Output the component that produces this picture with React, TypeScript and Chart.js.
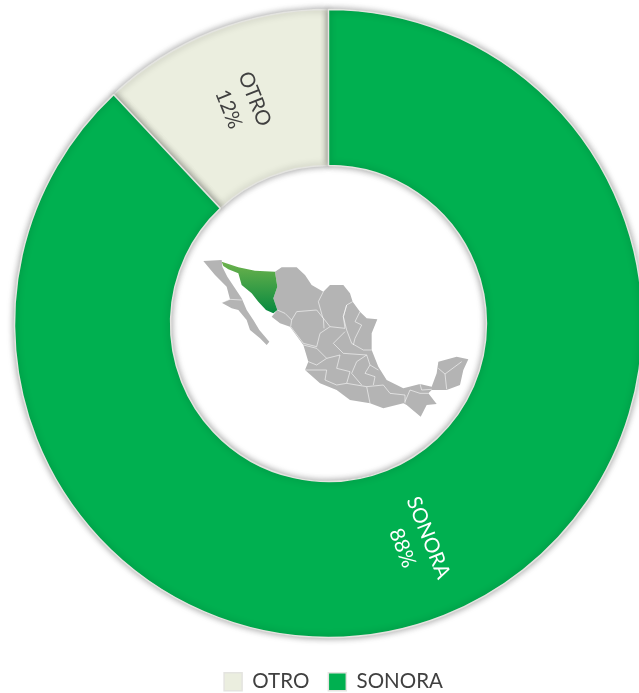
import React, { useEffect, useRef } from "react";
import { Chart, registerables } from "chart.js";

Chart.register(...registerables);

const categories = ["OTRO", "SONORA"];
const shares = [12, 88];
const sliceColors = ["#EBEEDF", "#00B050"];
const labelColors = ["#404040", "#FFFFFF"];

const FONT = "Lato, 'Open Sans', sans-serif";
const CANVAS_SHIFT = 16;
const LEGEND_NUDGE = 5;

// Decorative map of Mexico in the hole of the ring (traced outline, not chart data)
const MAP_BAJA = [[100,93],[155,90],[157,110],[172,140],[195,175],[215,205],[230,240],[250,270],[268,300],[298,335],[290,345],[270,325],[240,300],[230,270],[205,240],[185,235],[155,218],[180,208],[170,170],[135,135],[118,115]];
const MAP_SONORA = [[155,95],[205,112],[255,122],[315,125],[322,170],[310,205],[322,240],[310,250],[288,240],[265,215],[245,190],[215,165],[205,130],[175,118],[160,108]];
const MAP_MAIN = [[315,125],[335,112],[380,112],[405,135],[425,165],[460,185],[480,165],[520,165],[540,190],[548,215],[570,245],[590,265],[622,268],[605,310],[605,360],[625,410],[650,450],[700,475],[750,462],[785,470],[800,430],[805,395],[860,380],[895,388],[880,420],[870,465],[830,480],[785,480],[775,490],[800,522],[770,525],[752,560],[710,525],[700,520],[640,535],[600,520],[540,510],[500,480],[450,460],[405,420],[415,395],[400,345],[360,290],[330,280],[305,260],[322,240],[310,205],[322,170]];
const MAP_BORDERS = [
  [[155,218],[180,208],[215,210]],
  [[322,240],[345,250],[365,270],[380,245],[440,240],[460,265],[462,295]],
  [[460,185],[445,215],[458,262],[480,290],[525,295],[520,260],[530,225],[548,215]],
  [[365,270],[362,290],[400,340],[440,350],[450,310],[480,290]],
  [[530,225],[520,260],[530,300],[545,340],[580,360],[605,360]],
  [[570,245],[555,275],[575,285],[555,325],[550,345]],
  [[525,305],[490,340],[520,370],[590,375],[600,405],[625,420]],
  [[400,345],[440,355],[470,385],[510,375],[500,415],[540,425],[530,460]],
  [[415,395],[440,405],[470,385]],
  [[405,420],[470,420],[465,450],[500,465],[530,460],[590,470],[640,465],[660,490],[705,495]],
  [[590,375],[560,395],[545,430],[575,465]],
  [[600,405],[585,430],[615,440],[610,465]],
  [[590,470],[600,520]],
  [[705,515],[720,480],[750,490],[775,490]],
  [[705,495],[705,520]],
  [[805,415],[825,432],[875,395]],
  [[825,432],[830,478]],
  [[750,462],[755,480],[785,478]],
];

function tracePoly(ctx: CanvasRenderingContext2D, pts: number[][], close: boolean) {
  ctx.beginPath();
  pts.forEach((p, i) => (i === 0 ? ctx.moveTo(p[0], p[1]) : ctx.lineTo(p[0], p[1])));
  if (close) ctx.closePath();
}

const legendNudgePlugin = {
  id: "legendNudge",
  afterLayout(chart: any) {
    chart.legend.left += LEGEND_NUDGE;
    chart.legend.right += LEGEND_NUDGE;
  },
};

const shadowPlugin = {
  id: "ringShadow",
  beforeDatasetsDraw(chart: any) {
    const ctx = chart.ctx;
    ctx.save();
    ctx.shadowColor = "rgba(0,0,0,0.38)";
    ctx.shadowBlur = 7;
  },
  afterDatasetsDraw(chart: any) {
    chart.ctx.restore();
  },
};

const radialLabelPlugin = {
  id: "radialLabels",
  afterDraw(chart: any) {
    const ctx = chart.ctx;
    chart.getDatasetMeta(0).data.forEach((arc: any, i: number) => {
      const props = arc.getProps(["x", "y", "startAngle", "endAngle", "innerRadius", "outerRadius"], true);
      const mid = (props.startAngle + props.endAngle) / 2;
      const r = (props.innerRadius + props.outerRadius) / 2;
      let rot = mid;
      if (Math.cos(rot) < 0) rot += Math.PI;
      ctx.save();
      ctx.translate(props.x + Math.cos(mid) * r, props.y + Math.sin(mid) * r);
      ctx.rotate(rot);
      ctx.fillStyle = labelColors[i];
      ctx.font = `20.5px ${FONT}`;
      ctx.textAlign = "center";
      ctx.textBaseline = "middle";
      ctx.fillText(categories[i], 0, -14);
      ctx.fillText(`${shares[i]}%`, 0, 14);
      ctx.restore();
    });
  },
};

const mapPlugin = {
  id: "mexicoMap",
  afterDraw(chart: any) {
    const ctx = chart.ctx;
    ctx.save();
    ctx.translate(170, 230 + CANVAS_SHIFT);
    ctx.scale(1 / 3, 1 / 3);
    ctx.fillStyle = "#B4B4B4";
    tracePoly(ctx, MAP_BAJA, true);
    ctx.fill();
    tracePoly(ctx, MAP_MAIN, true);
    ctx.fill();
    ctx.strokeStyle = "rgba(255,255,255,0.85)";
    ctx.lineWidth = 2;
    ctx.lineJoin = "round";
    MAP_BORDERS.forEach((b) => {
      tracePoly(ctx, b, false);
      ctx.stroke();
    });
    const g = ctx.createLinearGradient(0, 95, 0, 250);
    g.addColorStop(0, "#6DB24C");
    g.addColorStop(1, "#05893F");
    ctx.fillStyle = g;
    tracePoly(ctx, MAP_SONORA, true);
    ctx.fill();
    ctx.restore();
  },
};

export default function App() {
  const ref = useRef<HTMLCanvasElement>(null);
  useEffect(() => {
    const chart = new Chart(ref.current as HTMLCanvasElement, {
      type: "doughnut",
      data: {
        labels: categories,
        datasets: [
          {
            data: shares,
            backgroundColor: sliceColors,
            borderColor: "#E4E4E0",
            borderWidth: 1.5,
            borderAlign: "center",
          } as any,
        ],
      },
      options: {
        responsive: false,
        animation: false,
        rotation: -43.2,
        radius: 314,
        cutout: "50.3%",
        layout: { padding: { top: 10.5, left: 0, right: 0, bottom: 0 } },
        plugins: {
          tooltip: { enabled: false },
          legend: {
            position: "bottom",
            labels: {
              boxWidth: 18,
              boxHeight: 18,
              padding: 19,
              color: "#404040",
              font: { family: FONT, size: 20.5 },
            },
          },
        },
      } as any,
      plugins: [legendNudgePlugin, shadowPlugin, radialLabelPlugin, mapPlugin],
    });
    return () => chart.destroy();
  }, []);
  return (
    <div style={{ position: "absolute", left: 0, top: 0, width: 639, height: 693, overflow: "hidden", background: "#fff" }}>
      <canvas ref={ref} width={657} height={718} style={{ position: "absolute", left: 0, top: -CANVAS_SHIFT, width: 657, height: 718 }} />
    </div>
  );
}
